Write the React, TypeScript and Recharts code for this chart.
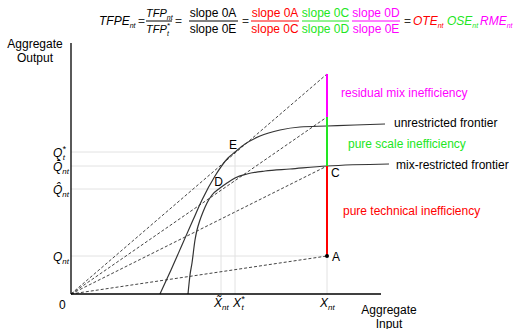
import React from "react"
import { ComposedChart, Line, XAxis, YAxis, ReferenceLine, ReferenceDot } from "recharts"

const FONT = "'Liberation Sans', Arial, sans-serif"

// input levels (x) and output levels (y)
const X_TILDE = 150
const X_STAR = 164
const X_NT = 256
const xTicks = [0, X_TILDE, X_STAR, X_NT]
const xTickLabels = [
  { base: "0", sub: "", sup: "" },
  { base: "X\u0303", sub: "nt", sup: "" },
  { base: "X", sub: "t", sup: "*" },
  { base: "X", sub: "nt", sup: "" },
]

const Q_NT = 38
const Q_HAT = 105
const Q_BAR = 128
const Q_STAR = 142
const yTicks = [Q_NT, Q_HAT, Q_BAR, Q_STAR]
const yTickLabels = [
  { base: "Q", sub: "nt", sup: "" },
  { base: "Q\u0302", sub: "nt", sup: "" },
  { base: "Q\u0304", sub: "nt", sup: "" },
  { base: "Q", sub: "t", sup: "*" },
]

const unrestrictedX = [89, 100, 111, 122, 131, 144, 157, 164, 174, 189, 209, 229, 256, 284, 314]
const unrestrictedY = [0, 24, 49, 74, 94, 118, 136, 142, 150, 158, 164, 167, 168, 169, 170]

const mixX = [117, 119, 121, 124, 126, 129, 132, 136, 141, 149, 156, 164, 176, 194, 219, 256, 318]
const mixY = [0, 19, 31, 54, 64, 74, 82, 91, 99, 106, 111, 116, 120, 123, 125, 128, 130]

// output on the X_nt vertical: A, C, ray through D, ray through E
const verticalStops = [Q_NT, Q_BAR, 177, 220]

const RED = "#ff0000"
const GREEN = "#22e622"
const MAGENTA = "#ff00ff"
const segmentColors = [RED, GREEN, MAGENTA]

const zip = (xs: number[], ys: number[]) => xs.map((x, i) => ({ x, y: ys[i] }))
const unrestricted = zip(unrestrictedX, unrestrictedY)
const mixRestricted = zip(mixX, mixY)
const rays = verticalStops.map((y) => [{ x: 0, y: 0 }, { x: X_NT, y }])
const segments = segmentColors.map((c, i) => ({
  color: c,
  data: [{ x: X_NT, y: verticalStops[i] }, { x: X_NT, y: verticalStops[i + 1] }],
}))

const dropLines = [
  [{ x: 0, y: Q_STAR }, { x: X_STAR, y: Q_STAR }],
  [{ x: X_STAR, y: 0 }, { x: X_STAR, y: Q_STAR }],
  [{ x: 0, y: Q_BAR }, { x: X_NT, y: Q_BAR }],
  [{ x: 0, y: Q_HAT }, { x: X_TILDE, y: Q_HAT }],
  [{ x: X_TILDE, y: 0 }, { x: X_TILDE, y: Q_HAT }],
  [{ x: 0, y: Q_NT }, { x: X_NT, y: Q_NT }],
  [{ x: X_NT, y: 0 }, { x: X_NT, y: Q_NT }],
]

type Sym = { base: string; sub: string; sup: string }

function MathText({ x, y, s, fill = "#000", anchor = "start", size = 12, subSize = 7 }: { x: number; y: number; s: Sym; fill?: string; anchor?: string; size?: number; subSize?: number }) {
  return (
    <text x={x} y={y} fill={fill} fontStyle="italic" fontSize={size} fontFamily={FONT} textAnchor={anchor}>
      {s.base}
      {s.sup && (
        <tspan fontSize={subSize + 1} dy={-5}>
          {s.sup}
        </tspan>
      )}
      <tspan fontSize={subSize} dx={s.sup ? -3 : 0} dy={s.sup ? 8 : 3}>
        {s.sub}
      </tspan>
    </text>
  )
}

const xTickShift = [-12, -7, -2, -7]

function XTick(props: any) {
  const i = xTicks.indexOf(props.payload.value)
  if (i < 0) return null
  if (i === 0)
    return (
      <text x={props.x - 12} y={309} fontSize={12} fontFamily={FONT} fill="#000">
        0
      </text>
    )
  return <MathText x={props.x + xTickShift[i]} y={307} s={xTickLabels[i]} subSize={8} />
}

function YTick(props: any) {
  const i = yTicks.indexOf(props.payload.value)
  if (i < 0) return null
  return <MathText x={53} y={props.y + 4.5} s={yTickLabels[i]} subSize={8} />
}

const note =
  (text: string, dx: number, dy: number, color = "#000", anchor = "start") =>
  (p: any) => {
    const vb = p.viewBox || {}
    const cx = (vb.x ?? 0) + (vb.width ?? 0) / 2
    const cy = (vb.y ?? 0) + (vb.height ?? 0) / 2
    return (
      <text x={cx + dx} y={cy + dy} fill={color} fontSize={12} fontFamily={FONT} textAnchor={anchor}>
        {text}
      </text>
    )
  }

function Frac({ cx, x1, x2, num, den, color }: { cx: number; x1: number; x2: number; num: string; den: string; color: string }) {
  return (
    <g fill={color} fontSize={12} fontFamily={FONT}>
      <text x={cx} y={17} textAnchor="middle">
        {num}
      </text>
      <line x1={x1} x2={x2} y1={21} y2={21} stroke={color} strokeWidth={1} />
      <text x={cx} y={33} textAnchor="middle">
        {den}
      </text>
    </g>
  )
}

function Formula() {
  const eq = (x: number) => (
    <text x={x} y={25} fontSize={12} fontFamily={FONT} fill="#333">
      =
    </text>
  )
  return (
    <g>
      <MathText x={99} y={25} s={{ base: "TFPE", sub: "nt", sup: "" }} />
      {eq(138)}
      <MathText x={146} y={17} size={11} s={{ base: "TFP", sub: "nt", sup: "" }} />
      <line x1={146} x2={172} y1={21} y2={21} stroke="#000" />
      <MathText x={146} y={33} size={11} s={{ base: "TFP", sub: "t", sup: "*" }} />
      {eq(175)}
      <Frac cx={213} x1={189} x2={238} num="slope 0A" den="slope 0E" color="#000" />
      {eq(242)}
      <Frac cx={275} x1={251} x2={299} num="slope 0A" den="slope 0C" color={RED} />
      <Frac cx={325.5} x1={302} x2={349} num="slope 0C" den="slope 0D" color={GREEN} />
      <Frac cx={376} x1={352} x2={400} num="slope 0D" den="slope 0E" color={MAGENTA} />
      {eq(404)}
      <MathText x={413} y={25} fill={RED} s={{ base: "OTE", sub: "nt", sup: "" }} />
      <MathText x={447} y={25} fill={GREEN} s={{ base: "OSE", sub: "nt", sup: "" }} />
      <MathText x={480} y={25} fill={MAGENTA} s={{ base: "RME", sub: "nt", sup: "" }} />
      <g fontSize={12} fontFamily={FONT} fill="#000" textAnchor="middle">
        <text x={35} y={48}>Aggregate</text>
        <text x={35} y={62}>Output</text>
        <text x={389} y={314}>Aggregate</text>
        <text x={389} y={328}>Input</text>
      </g>
    </g>
  )
}

export default function App() {
  return (
    <div style={{ position: "absolute", left: 0, top: 0, background: "#fff" }}>
      <ComposedChart width={514} height={329} margin={{ top: 43, right: 113, bottom: 0, left: 0 }}>
        <XAxis type="number" dataKey="x" domain={[0, 330]} ticks={xTicks} height={35} axisLine={false} tickLine={false} tick={XTick} interval={0} />
        <YAxis type="number" dataKey="y" domain={[0, 251]} ticks={yTicks} width={71} axisLine={false} tickLine={false} tick={YTick} interval={0} />
        {dropLines.map((seg, i) => (
          <ReferenceLine key={"g" + i} segment={seg} stroke="#e2e2e2" strokeWidth={1} />
        ))}
        {rays.map((d, i) => (
          <Line key={"r" + i} data={d} dataKey="y" type="linear" stroke="#444" strokeWidth={1} strokeDasharray="3 2" dot={false} activeDot={false} isAnimationActive={false} />
        ))}
        <Line data={unrestricted} dataKey="y" type="monotone" stroke="#333" strokeWidth={1.2} dot={false} activeDot={false} isAnimationActive={false} />
        <Line data={mixRestricted} dataKey="y" type="monotone" stroke="#333" strokeWidth={1.2} dot={false} activeDot={false} isAnimationActive={false} />
        {segments.map((s, i) => (
          <Line key={"s" + i} data={s.data} dataKey="y" type="linear" stroke={s.color} strokeWidth={2} dot={false} activeDot={false} isAnimationActive={false} />
        ))}
        <ReferenceLine segment={[{ x: 0, y: 0 }, { x: 310, y: 0 }]} stroke="#000" strokeWidth={1.3} />
        <ReferenceLine segment={[{ x: 0, y: 0 }, { x: 0, y: 251 }]} stroke="#000" strokeWidth={1.3} />
        <ReferenceDot x={X_NT} y={Q_NT} r={2} fill="#000" stroke="none" label={note("A", 5, 4.5)} />
        <ReferenceDot x={X_NT} y={Q_BAR} r={0} stroke="none" label={note("C", 4, 11)} />
        <ReferenceDot x={X_TILDE} y={Q_HAT} r={0} stroke="none" label={note("D", 2, -3, "#000", "end")} />
        <ReferenceDot x={X_STAR} y={Q_STAR} r={0} stroke="none" label={note("E", 2, -3, "#000", "end")} />
        <ReferenceDot x={314} y={170} r={0} stroke="none" label={note("unrestricted frontier", 9, 3)} />
        <ReferenceDot x={318} y={130} r={0} stroke="none" label={note("mix-restricted frontier", 7, 5)} />
        <ReferenceDot x={X_NT} y={201} r={0} stroke="none" label={note("residual mix inefficiency", 14, 4, MAGENTA)} />
        <ReferenceDot x={X_NT} y={150} r={0} stroke="none" label={note("pure scale inefficiency", 21, 4, GREEN)} />
        <ReferenceDot x={X_NT} y={83} r={0} stroke="none" label={note("pure technical inefficiency", 16, 4, RED)} />
        <Formula />
      </ComposedChart>
    </div>
  )
}
